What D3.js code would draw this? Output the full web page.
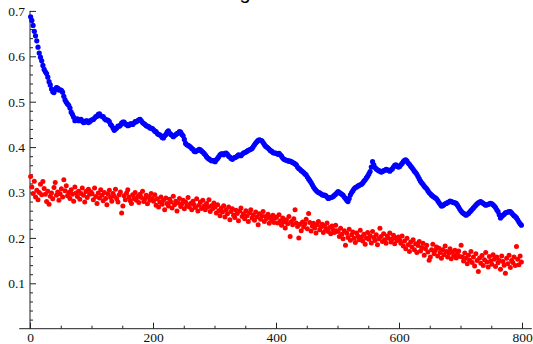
<!DOCTYPE html>
<html>
<head>
<meta charset="utf-8">
<script src="https://cdn.jsdelivr.net/npm/d3@7/dist/d3.min.js"></script>
<style>
html,body{margin:0;padding:0;background:#fff;}
svg{display:block;}
</style>
</head>
<body>
<svg id="chart" width="533" height="344"></svg>
<script>
// ---- data ----
const titleText = "g";
const xTickLabels = [0, 200, 400, 600, 800];
const yTickLabels = [0.1, 0.2, 0.3, 0.4, 0.5, 0.6, 0.7];
// blue series, read at x = 1, 5, 9, ... (A) and x = 3, 7, 11, ... (B)
const blueStep = 4;
const blueStartA = 1;
const blueValuesA = [
.687,.668,.645,.620,.598,.580,.566,.554,.537,.522,.527,.530,.526,.521,.504,.495,.486,.472,.458,.462,
.460,.457,.455,.458,.456,.460,.464,.468,.473,.468,.463,.460,.456,.447,.437,.442,.446,.453,.455,.450,
.448,.451,.453,.456,.460,.458,.452,.447,.445,.442,.438,.434,.428,.425,.420,.428,.436,.428,.423,.427,
.431,.433,.425,.408,.404,.400,.395,.390,.393,.394,.389,.383,.376,.372,.370,.368,.375,.383,.385,.386,
.384,.378,.373,.377,.380,.382,.384,.388,.391,.394,.397,.405,.412,.416,.414,.406,.400,.395,.391,.387,
.386,.386,.380,.373,.371,.369,.368,.365,.361,.353,.348,.344,.339,.330,.322,.312,.305,.300,.297,.294,
.293,.287,.289,.291,.296,.302,.298,.294,.287,.280,.295,.304,.311,.314,.317,.321,.328,.336,.346,.368,
.355,.350,.347,.346,.349,.350,.347,.352,.360,.358,.357,.364,.371,.369,.362,.355,.347,.340,.330,.321,
.314,.308,.300,.294,.290,.286,.278,.270,.273,.276,.279,.280,.278,.276,.268,.259,.254,.250,.254,.260,
.266,.272,.277,.280,.276,.272,.274,.276,.273,.267,.258,.244,.250,.255,.257,.258,.252,.247,.240,.231
];
const blueStartB = 3;
const blueValuesB = [
.679,.655,.634,.607,.590,.571,.562,.544,.528,.520,.531,.526,.525,.512,.499,.492,.477,.466,.461,.458,
.461,.454,.458,.454,.459,.461,.467,.472,.469,.467,.460,.459,.450,.442,.440,.446,.448,.455,.451,.447,
.451,.450,.456,.458,.461,.454,.450,.446,.442,.441,.435,.430,.427,.421,.425,.433,.431,.426,.426,.430,
.434,.428,.417,.405,.402,.397,.391,.392,.395,.391,.386,.379,.374,.370,.370,.372,.379,.385,.383,.387,
.380,.375,.376,.378,.383,.381,.387,.389,.393,.395,.401,.409,.415,.415,.410,.402,.398,.392,.388,.387,
.384,.383,.376,.372,.370,.369,.366,.363,.356,.351,.346,.341,.334,.326,.317,.308,.302,.299,.295,.294,
.290,.288,.290,.294,.299,.300,.296,.290,.283,.287,.300,.308,.312,.316,.318,.325,.332,.341,.356,.361,
.352,.348,.345,.348,.351,.349,.350,.356,.361,.356,.361,.368,.372,.365,.358,.351,.344,.335,.325,.318,
.311,.304,.297,.292,.288,.282,.274,.271,.275,.278,.281,.279,.277,.272,.263,.256,.252,.252,.257,.263,
.269,.275,.279,.278,.274,.273,.275,.275,.270,.262,.251,.247,.252,.256,.258,.255,.249,.244,.235,.228
];
const redStart = 1, redStep = 2;
const redValues = [
.335,.312,.298,.325,.290,.305,.284,.300,.318,.295,.324,.309,.296,.280,.303,.274,.292,.299,.286,.311,
.322,.294,.301,.283,.297,.308,.290,.328,.304,.315,.293,.300,.287,.306,.296,.281,.312,.299,.291,.303,
.285,.298,.310,.294,.279,.302,.289,.307,.296,.301,
.297,.284,.310,.291,.276,.299,.288,.306,.294,.282,.300,.287,.273,.296,.305,.289,.281,.298,.292,.307,
.286,.279,.295,.301,.255,.270,.293,.284,.299,.306,.290,.282,.276,.295,.287,.300,.283,.291,.278,.296,
.289,.303,.280,.286,.294,.275,.290,.283,.298,.287,
.281,.295,.272,.286,.268,.279,.290,.274,.283,.262,.288,.276,.270,.285,.279,.266,.292,.273,.281,.259,
.277,.287,.269,.275,.283,.264,.279,.271,.289,.268,.276,.262,.281,.273,.267,.286,.259,.272,.279,.265,
.283,.270,.262,.276,.268,.284,.258,.271,.264,.277,
.268,.255,.273,.260,.249,.266,.257,.271,.246,.262,.253,.268,.240,.258,.264,.250,.245,.261,.254,.238,
.259,.266,.247,.253,.242,.260,.249,.236,.255,.262,.244,.251,.239,.257,.246,.229,.253,.241,.248,.258,
.236,.247,.243,.252,.232,.245,.239,.250,.234,.244,
.246,.233,.251,.238,.228,.244,.235,.222,.240,.231,.247,.203,.236,.229,.242,.262,.233,.225,.200,.230,
.216,.235,.224,.231,.241,.220,.254,.234,.215,.226,.232,.222,.211,.229,.236,.218,.224,.230,.212,.227,
.219,.233,.214,.223,.209,.226,.218,.212,.228,.216,
.214,.203,.221,.208,.198,.216,.184,.210,.201,.219,.195,.207,.213,.199,.190,.211,.204,.196,.217,.202,
.193,.208,.186,.200,.212,.197,.205,.189,.214,.201,.194,.207,.185,.198,.221,.203,.192,.209,.196,.188,
.204,.199,.211,.191,.197,.206,.187,.200,.194,.202,
.196,.188,.204,.182,.193,.176,.199,.185,.170,.191,.180,.196,.174,.187,.168,.183,.192,.171,.179,.188,
.162,.176,.184,.169,.151,.158,.174,.186,.165,.172,.180,.160,.177,.168,.155,.174,.163,.182,.170,.158,
.166,.176,.154,.169,.161,.173,.156,.165,.171,.159,
.184,.158,.149,.167,.155,.143,.162,.151,.170,.146,.158,.138,.165,.150,.126,.156,.144,.161,.139,.152,
.168,.147,.136,.159,.149,.142,.163,.153,.137,.158,.145,.150,.131,.160,.148,.140,.122,.155,.143,.162,
.135,.150,.146,.158,.139,.181,.153,.141,.160,.147
];
const xMinorTicks = [50,100,150,250,300,350,450,500,550,650,700,750];
const yMinorTicks = [0.02,0.04,0.06,0.08,0.12,0.14,0.16,0.18,0.22,0.24,0.26,0.28,0.32,0.34,0.36,0.38,0.42,0.44,0.46,0.48,0.52,0.54,0.56,0.58,0.62,0.64,0.66,0.68];

// ---- drawing ----
const svg = d3.select("#chart");
const x = d3.scaleLinear().domain([0, 800]).range([30, 522]);
const y = d3.scaleLinear().domain([0, 0.7]).range([328.7, 10.9]);
const axisColor = "#222";
const labelFont = "'Liberation Serif','Times New Roman',serif";

// title (mostly above the visible window, as in the reference)
svg.append("text").attr("x", 245).attr("y", -1.2)
  .attr("text-anchor", "middle")
  .style("font-family", "'Liberation Sans',Arial,sans-serif")
  .style("font-size", "20px").attr("fill", "#000").text(titleText);

// axis lines
svg.append("line").attr("x1", x(-17.5)).attr("x2", x(816)).attr("y1", y(0)).attr("y2", y(0))
  .attr("stroke", axisColor).attr("stroke-width", 1);
svg.append("line").attr("x1", x(0)).attr("x2", x(0)).attr("y1", y(0)).attr("y2", y(0.7))
  .attr("stroke", axisColor).attr("stroke-width", 1);

function styleAxis(g) {
  g.select(".domain").remove();
  g.selectAll("line").attr("stroke", axisColor);
  g.selectAll("text").style("font-family", labelFont).style("font-size", "13.5px").attr("fill", "#111");
}

// x axis
svg.append("g").attr("transform", `translate(0,${y(0)})`)
  .call(d3.axisBottom(x).tickValues(xMinorTicks).tickSize(-3).tickFormat(""))
  .call(styleAxis);
svg.append("g").attr("transform", `translate(0,${y(0)})`)
  .call(d3.axisBottom(x).tickValues(xTickLabels).tickSize(-6).tickPadding(4).tickFormat(d3.format("d")))
  .call(styleAxis);

// y axis
svg.append("g").attr("transform", `translate(${x(0)},0)`)
  .call(d3.axisLeft(y).tickValues(yMinorTicks).tickSize(-3).tickFormat(""))
  .call(styleAxis);
svg.append("g").attr("transform", `translate(${x(0)},0)`)
  .call(d3.axisLeft(y).tickValues(yTickLabels).tickSize(-6).tickPadding(5).tickFormat(d3.format(".1f")))
  .call(styleAxis);

// points
const blueData = blueValuesA.map((v, i) => ({ x: blueStartA + i * blueStep, y: v }))
  .concat(blueValuesB.map((v, i) => ({ x: blueStartB + i * blueStep, y: v })))
  .sort((a, b) => a.x - b.x);
const redData = redValues.map((v, i) => ({ x: redStart + i * redStep, y: v }));

svg.append("g").selectAll("circle").data(blueData).join("circle")
  .attr("cx", d => x(d.x)).attr("cy", d => y(d.y)).attr("r", 2.6).attr("fill", "#0000ff");
svg.append("g").selectAll("circle").data(redData).join("circle")
  .attr("cx", d => x(d.x)).attr("cy", d => y(d.y)).attr("r", 2.5).attr("fill", "#ff0000");
</script>
</body>
</html>
